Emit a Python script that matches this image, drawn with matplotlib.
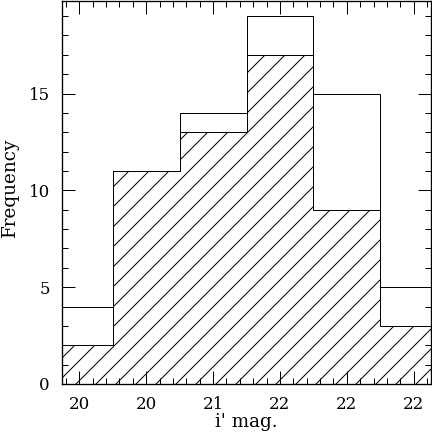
import matplotlib
matplotlib.use("Agg")
import matplotlib.pyplot as plt
from matplotlib.ticker import FixedLocator, MultipleLocator, FixedFormatter

bin_edges = [19.75, 20.25, 20.75, 21.25, 21.75, 22.25, 22.75]
total_counts = [4, 11, 14, 19, 15, 5]
subset_counts = [2, 11, 13, 17, 9, 3]
xtick_values = [20.0, 20.5, 21.0, 21.5, 22.0, 22.5]
xtick_labels = ["20", "20", "21", "22", "22", "22"]
ytick_values = [0, 5, 10, 15]
ytick_labels = ["0", "5", "10", "15"]

plt.rcParams["font.family"] = ["DejaVu Serif"]
plt.rcParams["hatch.linewidth"] = 0.6
plt.rcParams["hatch.color"] = "black"

DPI = 120
fig = plt.figure(figsize=(432 / DPI, 432 / DPI), dpi=DPI)
ax = fig.add_axes([62 / 432, 1 - 384 / 432, (431 - 62) / 432, (384 - 1) / 432])

ax.stairs(subset_counts, bin_edges, fill=True, facecolor="none",
          edgecolor="black", hatch="//", linewidth=0.6)
ax.stairs(total_counts, bin_edges, fill=False, edgecolor="black", linewidth=0.6)

ax.set_xlim(19.87, 22.63)
ax.set_ylim(0, 19.78)

ax.xaxis.set_major_locator(FixedLocator(xtick_values))
ax.xaxis.set_major_formatter(FixedFormatter(xtick_labels))
ax.xaxis.set_minor_locator(MultipleLocator(0.1))
ax.yaxis.set_major_locator(FixedLocator(ytick_values))
ax.yaxis.set_major_formatter(FixedFormatter(ytick_labels))
ax.yaxis.set_minor_locator(MultipleLocator(1))

ax.tick_params(which="both", direction="in", top=True, right=True,
               width=0.6, colors="black", labelsize=10)
ax.tick_params(which="major", length=13 * 72 / DPI, pad=12 * 72 / DPI)
ax.tick_params(which="minor", length=6 * 72 / DPI)
for s in ax.spines.values():
    s.set_linewidth(0.8)

ax.set_xlabel("i' mag.", fontsize=11, labelpad=0)
ax.set_ylabel("Frequency", fontsize=11, labelpad=0)
ax.yaxis.set_label_coords(-0.117, 0.514)

fig.savefig("out.png", dpi=DPI)
